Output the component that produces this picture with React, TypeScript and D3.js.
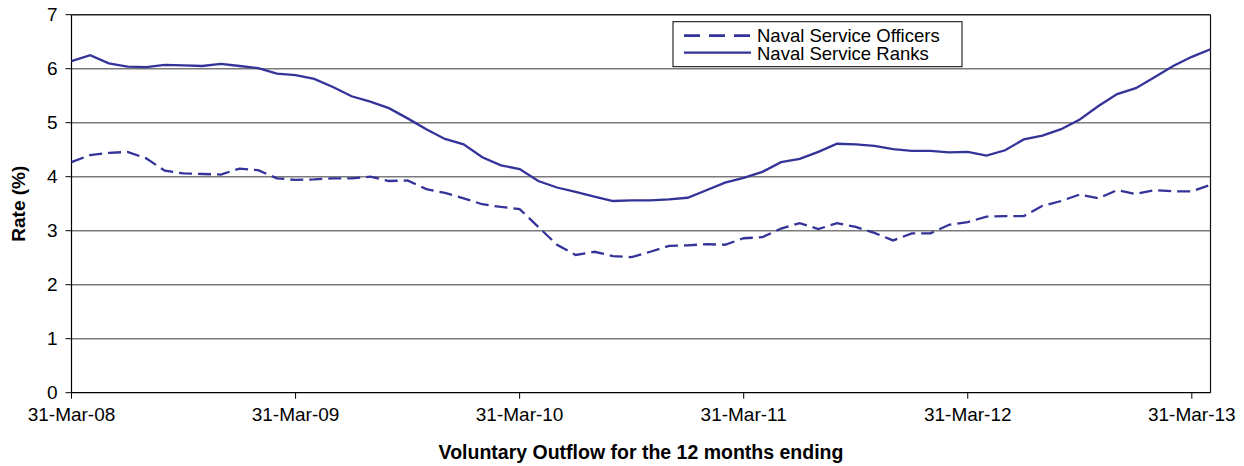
import React from "react";
import * as d3 from "d3";

const officers = [
  4.27, 4.4, 4.44, 4.46, 4.34, 4.11, 4.06, 4.05, 4.04, 4.15, 4.12, 3.97,
  3.94, 3.95, 3.97, 3.97, 4.0, 3.92, 3.93, 3.77, 3.7, 3.6, 3.49, 3.44,
  3.4, 3.07, 2.74, 2.55, 2.61, 2.53, 2.51, 2.61, 2.72, 2.73, 2.75, 2.74,
  2.86, 2.88, 3.04, 3.14, 3.03, 3.14, 3.07, 2.96, 2.82, 2.95, 2.95, 3.11,
  3.16, 3.26, 3.27, 3.27, 3.46, 3.55, 3.67, 3.6, 3.75, 3.68, 3.75, 3.73,
  3.73, 3.85,
];

const ranks = [
  6.14, 6.25, 6.1, 6.04, 6.03, 6.07, 6.06, 6.05, 6.09, 6.05, 6.01, 5.91,
  5.88, 5.81, 5.66, 5.49, 5.39, 5.27, 5.08, 4.88, 4.7, 4.6, 4.36, 4.21,
  4.14, 3.92, 3.8, 3.72, 3.63, 3.55, 3.56, 3.56, 3.58, 3.61, 3.75, 3.89,
  3.98, 4.09, 4.27, 4.33, 4.46, 4.61, 4.6, 4.57, 4.51, 4.48, 4.48, 4.45,
  4.46, 4.39, 4.49, 4.69, 4.76, 4.88, 5.06, 5.31, 5.53, 5.64, 5.84, 6.05,
  6.22, 6.36,
];

const xTickLabels = ["31-Mar-08", "31-Mar-09", "31-Mar-10", "31-Mar-11", "31-Mar-12", "31-Mar-13"];
const xTickIndex = [0, 12, 24, 36, 48, 60];
const yTicks = [0, 1, 2, 3, 4, 5, 6, 7];
const seriesNames = ["Naval Service Officers", "Naval Service Ranks"];

const W = 1244;
const H = 466;
const L = 71.5;
const R = 1210.5;
const T = 14.7;
const B = 392.7;
const COLOR = "#333399";
const FONT = "'Liberation Sans', Arial, sans-serif";

export default function App() {
  const x = d3.scaleLinear().domain([0, officers.length - 1]).range([L, R]);
  const y = d3.scaleLinear().domain([0, 7]).range([B, T]);
  const line = d3
    .line<number>()
    .x((_, i) => x(i))
    .y((d) => y(d));

  return (
    <div style={{ position: "absolute", left: 0, top: 0 }}>
      <svg width={W} height={H} style={{ display: "block", background: "#fff" }} fontFamily={FONT}>
        {yTicks.slice(1).map((t) => (
          <line key={t} x1={L} x2={R} y1={y(t)} y2={y(t)} stroke={t === 7 ? "#222" : "#7a7a7a"} strokeWidth={1.4} />
        ))}
        <line x1={R} x2={R} y1={T} y2={B} stroke="#111" strokeWidth={1.2} />
        <line x1={L} x2={L} y1={T} y2={B} stroke="#000" strokeWidth={1.2} />
        <line x1={L} x2={R} y1={B} y2={B} stroke="#000" strokeWidth={1.2} />
        {yTicks.map((t) => (
          <g key={t}>
            <line x1={L - 6} x2={L} y1={y(t)} y2={y(t)} stroke="#000" strokeWidth={1} />
            <text x={L - 14} y={y(t)} dy="0.35em" textAnchor="end" fontSize={19}>
              {t}
            </text>
          </g>
        ))}
        {xTickIndex.map((idx, k) => (
          <g key={idx}>
            <line x1={x(idx)} x2={x(idx)} y1={B} y2={B + 6} stroke="#000" strokeWidth={1} />
            <text x={x(idx)} y={B + 28} textAnchor="middle" fontSize={19}>
              {xTickLabels[k]}
            </text>
          </g>
        ))}
        <path d={line(officers) || ""} fill="none" stroke={COLOR} strokeWidth={2.3} strokeDasharray="13,6" />
        <path d={line(ranks) || ""} fill="none" stroke={COLOR} strokeWidth={2.3} />
        <text x={(L + R) / 2} y={459} textAnchor="middle" fontSize={19.5} fontWeight="bold">
          Voluntary Outflow for the 12 months ending
        </text>
        <text
          transform={`translate(25,${(T + B) / 2}) rotate(-90)`}
          textAnchor="middle"
          fontSize={19}
          fontWeight="bold"
        >
          Rate (%)
        </text>
        <rect x={673} y={21.7} width={289} height={45} fill="#fff" stroke="#000" strokeWidth={1} />
        <line x1={684} x2={751} y1={35.7} y2={35.7} stroke={COLOR} strokeWidth={2.8} strokeDasharray="16,9" />
        <line x1={684} x2={751} y1={52.7} y2={52.7} stroke={COLOR} strokeWidth={2.3} />
        <text x={757} y={42} fontSize={18.5}>
          {seriesNames[0]}
        </text>
        <text x={757} y={60} fontSize={18.5}>
          {seriesNames[1]}
        </text>
      </svg>
    </div>
  );
}
